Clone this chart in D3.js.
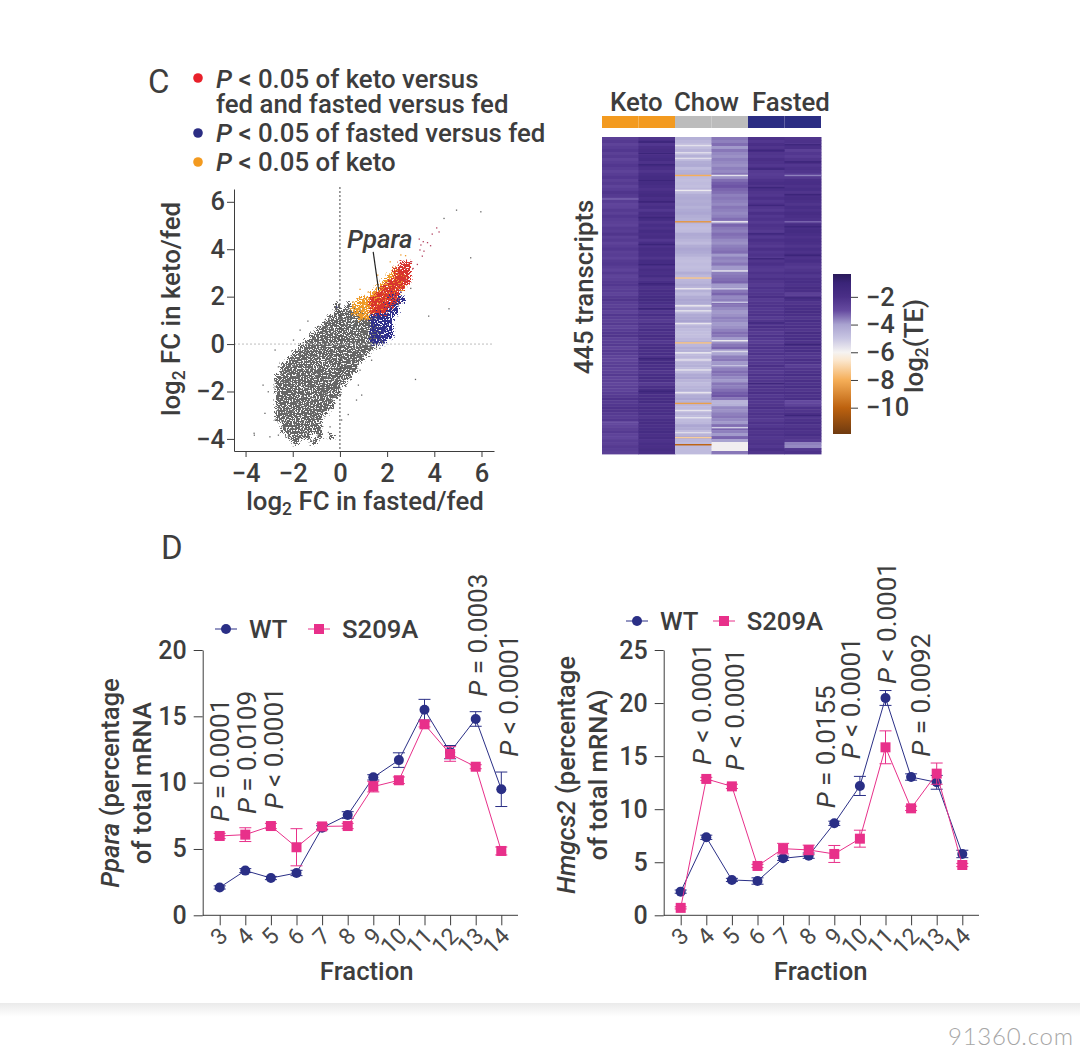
<!DOCTYPE html>
<html><head><meta charset="utf-8">
<script src="https://cdn.jsdelivr.net/npm/d3@7"></script>
<style>
html,body{margin:0;padding:0;background:#fff}
svg{display:block}
text{font-family:Roboto,sans-serif;fill:#3d3d3d}
</style></head><body>
<svg id="c" width="1080" height="1051"></svg>
<script>
// ---------- panel C scatter (density read per 0.25 x 0.25 log2 cell, 0-9) ----------
const grayX0 = -3.5, colorX0 = 0, cellSize = 0.25;
const grayTopY = 1.5, colorTopY = 3.25;
const grayDensity = [
"000000000000010100000000",
"000000000000011121000000",
"000000000000123588410000",
"000000000001257999930000",
"000000000012489999961000",
"000000000124699999961000",
"000000001235899999731000",
"000000012456899996210000",
"000000113567888952100000",
"000001235677776421000000",
"000011356777775310000000",
"000012466777764210000000",
"000113566777653100000000",
"000124667776421000000000",
"000135666765310000000000",
"000135666654210000000000",
"000124566542100000000000",
"000124565432100000000000",
"000113454321000000000000",
"000112342210000000000000",
"000011232110000000000000",
"000011111110000000000000",
"000001111010100000000000",
"000000100100000000000000"];
const orangeDensity = [
"00000000000000",
"00000000010000",
"00000000121000",
"00000001231000",
"00000013441000",
"00000135530000",
"00012465200000",
"00135641000000",
"00257400000000",
"00013000000000"];
const redDensity = [
"00000000001100",
"00000000012100",
"00000000024200",
"00000000146100",
"00000001472000",
"00000027830000",
"00000487510000",
"00000678300000",
"00000475000000",
"00000000000000"];
const blueDensity = [
"00000000000000",
"00000000000000",
"00000000000000",
"00000000000000",
"00000000000000",
"00000000110000",
"00000000131000",
"00000002310000",
"00000046410000",
"00000376200000",
"00000376100000",
"00000264100000",
"00000132100000",
"00000111000000"];
const grayPointsX = [4.94,5.97,4.41,5.54,4.62,3.76,3.2,-3.64,-3.26,-2.75,-1.36,-1.69,1.74,2.47,3.0,-3.04,-2.75,-2.61,-2.26,-3.18,-2.75,-2.47,-2.97,-2.61,-2.19,-1.34,-0.92,-0.42,0.07,0.35,0.7,0.92,0.78,0.85,1.34,0.99,-1.97,1.69,-3.63];
const grayPointsY = [5.65,5.58,5.3,3.64,1.49,1.18,-1.49,-3.76,-1.73,-0.25,0.97,0.59,0.14,1.68,2.35,-2.01,-1.8,-0.96,-0.75,-2.92,-3.2,-3.49,-3.91,-3.84,-3.91,-3.91,-3.84,-3.49,-3.2,-2.97,-2.36,-2.15,-1.73,-1.1,-0.68,-0.46,0.17,-0.18,-3.84];
const redPointsX = [4.1,4.2,3.91,3.36,3.53,3.71,3.84,3.43,3.39,3.56,3.49,3.01,3.28,2.75,2.9,3.1];
const redPointsY = [4.9,4.73,4.64,4.43,4.32,4.28,4.15,4.18,3.97,3.92,3.71,3.47,3.36,2.7,2.77,3.19];
const orangePointsX = [2.58,2.78,2.13,0.85,1.2,0.56,1.6];
const orangePointsY = [3.76,3.73,3.47,2.31,2.2,1.78,2.91];
const bluePointsX = [-0.14,2.12,1.84,1.62,2.58,2.33];
const bluePointsY = [1.56,1.22,0.52,0.66,2.2,1.65];
const scatterTicks = [-4,-2,0,2,4,6];
const ppLeaderX = [1.41,1.64], ppLeaderY = [3.89,2.27];

// ---------- panel C heatmap (log2 TE, 106 blocks of the 445 transcripts) ----------
const transcriptCount = 445;
const ketoA = [-2.6,-2.4,-2.7,-2.5,-2.3,-2.6,-2.4,-2.7,-2.5,-2.3,-2.5,-2.7,-2.5,-2.3,-2.6,-2.4,-2.7,-2.5,-2.2,-2.4,-2.6,-2.5,-2.8,-2.7,-2.4,-2.6,-2.3,-2.5,-2.6,-2.7,-2.4,-2.5,-2.2,-2.6,-2.4,-2.7,-2.5,-2.3,-2.6,-2.5,-2.7,-2.4,-2.3,-2.5,-2.7,-2.4,-2.7,-2.6,-2.4,-2.3,-2.6,-2.5,-2.7,-2.4,-2.2,-2.5,-2.6,-2.4,-2.7,-2.3,-2.5,-2.6,-2.4,-2.7,-2.5,-2.3,-2.2,-2.6,-2.5,-2.4,-2.7,-2.4,-2.5,-2.7,-2.8,-2.6,-2.5,-2.7,-2.6,-2.4,-2.7,-2.6,-2.8,-2.6,-2.7,-2.5,-2.4,-2.1,-2.4,-2.3,-2.1,-2.2,-2.4,-2.5,-2.3,-2.7,-2.8,-2.6,-2.4,-2.7,-2.8,-2.5,-2.6,-2.4,-2.5,-2.6];
const ketoB = [-2.2,-1.9,-2.3,-2,-1.8,-2.2,-1.9,-1.7,-2.1,-1.8,-2,-2.2,-1.9,-1.7,-2,-1.7,-1.9,-2.1,-1.8,-1.6,-2,-1.8,-2.1,-1.9,-2.3,-1.8,-2,-1.7,-2.2,-1.9,-2.1,-1.7,-2,-1.8,-2.3,-1.9,-2.1,-1.8,-2,-1.9,-2.2,-1.7,-1.9,-2.1,-1.8,-2,-1.7,-2.2,-1.9,-1.7,-2.1,-1.8,-2,-1.7,-1.6,-1.9,-2.1,-1.8,-2.3,-1.9,-2.2,-2.4,-2,-2.2,-1.9,-2.1,-1.8,-2,-2.3,-2,-1.8,-2,-1.9,-2.1,-1.8,-1.7,-2,-1.9,-2.2,-1.9,-1.8,-2,-2.4,-2,-1.8,-1.7,-2,-1.8,-1.7,-2.1,-1.8,-2,-1.9,-2.2,-1.9,-1.8,-2,-1.9,-1.7,-2,-1.8,-2.1,-1.9,-2,-1.8,-2];
const chowA = [-4.4,-4.6,-4.8,-4.8,-4.5,-4.8,-4.4,-4.7,-4.3,-4.2,-4.7,-4.4,-4.3,-4.7,-4.8,-4.7,-4.8,-4.6,-4.7,-4.3,-4.2,-4.3,-4.2,-4.4,-4.2,-4.1,-4.3,-4.4,-4.5,-4.7,-4.8,-4.7,-4.2,-4.3,-4.5,-4.7,-4.3,-4.1,-4.2,-4.4,-4.7,-4.8,-4.7,-4.8,-4.7,-4.3,-4.6,-4.6,-4.5,-4.3,-4.6,-4.4,-4.7,-4.3,-4.1,-4.2,-4.6,-4.5,-4.7,-4.2,-4.1,-4,-4.6,-4.5,-4.7,-4.8,-4.8,-4.6,-4.4,-4.6,-4.3,-4.4,-4.7,-4.6,-4.7,-4.5,-4.4,-4.7,-4.7,-4.2,-4.1,-4.5,-4.7,-4.5,-4.4,-4.6,-4.3,-4.1,-4.4,-4.6,-4.7,-4.7,-4.5,-4.7,-4.7,-4.6,-4.1,-4.3,-4.7,-4.5,-4.1,-4.6,-4.7,-4.7,-4.7,-4.7];
const chowB = [-3.5,-3.6,-3.4,-3.9,-3.5,-3.7,-3.8,-3.6,-3.7,-3.8,-3.6,-3.7,-3.5,-3.8,-3.4,-3.2,-3.1,-3.3,-3.4,-3.6,-3.5,-3.6,-3.7,-3.5,-3.6,-3.7,-3.6,-3.4,-3.8,-3.3,-3.5,-3.6,-3.4,-3.5,-3.7,-3.8,-3.6,-3.5,-3.4,-3.9,-3.6,-3.7,-3.5,-3.9,-3.9,-3.6,-3.5,-3.4,-3.3,-3.9,-3.9,-3.5,-3.3,-3.7,-3.6,-3.4,-3.5,-3.7,-3.9,-3.8,-3.6,-3.7,-3.9,-3.8,-3.6,-3.4,-3.5,-3.9,-3.8,-3.5,-3.3,-3.9,-4.1,-3.6,-3.5,-3.9,-3.7,-3.6,-3.4,-3.5,-3.7,-3.9,-3.5,-3.6,-3.4,-3.2,-3.1,-3.5,-4.5,-4.4,-3.7,-3.8,-3.6,-3.5,-3.7,-3.9,-3.4,-3.3,-3.6,-3.9,-3.3,-4,-5.9,-5.9,-5.9,-3.5];
const fastedA = [-2.1,-2.3,-2,-2.2,-1.9,-2.2,-2.3,-2,-2.1,-2.3,-2,-2.4,-2.5,-2.4,-2.1,-1.9,-2.2,-2,-2.2,-2.3,-2,-2.3,-2.1,-2.2,-2.4,-2,-2.3,-2.1,-2.4,-2.1,-2.2,-2.4,-2.1,-2.3,-2,-2.2,-2.4,-2,-2.3,-2.1,-2.4,-2.2,-2,-2.3,-2.4,-2.1,-2.3,-2,-2.2,-2.4,-2.1,-2.3,-2.2,-2,-2.4,-2.2,-2.1,-2.3,-2.2,-2.1,-2.4,-2.2,-2.3,-2,-2.2,-2.4,-2.1,-2.3,-2.5,-2.2,-2.1,-2.3,-2.1,-2.4,-2.2,-2.3,-2,-2.2,-2.4,-2.1,-2.3,-2.2,-2.4,-2.1,-2.2,-2,-2.3,-2.1,-2.3,-2.2,-2,-2.3,-2.1,-2.2,-2.4,-2.1,-2.3,-2,-2.2,-2.1,-2.3,-2.2,-2.1,-2.3,-2,-2.2];
const fastedB = [-2.2,-2.1,-2.3,-2,-2.6,-2.3,-2.5,-2.2,-2,-2.3,-2.1,-2.2,-2.5,-2.4,-2,-1.9,-2.1,-1.9,-2.2,-2,-1.8,-2,-2.2,-1.9,-2.1,-1.8,-2,-2.1,-2.3,-1.8,-1.9,-1.7,-1.9,-2.1,-1.9,-2,-2.2,-1.9,-2.1,-1.8,-2.1,-1.9,-2.2,-2.4,-2.2,-2,-2.3,-2,-1.9,-2.1,-1.8,-2,-2.6,-2.2,-1.9,-2.2,-2,-1.9,-1.8,-2,-2.2,-1.9,-2.1,-2,-2.2,-1.8,-2,-1.9,-2.1,-1.8,-2,-1.9,-2.2,-2.3,-2,-2.1,-2.5,-2.2,-2.1,-1.9,-2.2,-2,-2.1,-1.9,-2.2,-2,-2.1,-1.9,-2.9,-2.7,-2.1,-2.2,-2,-2.3,-2.1,-1.9,-2.2,-2,-2.1,-1.9,-2.2,-2.4,-3.6,-3.7,-2.3,-2.1];
// single transcripts that stand out inside a block: column index, transcript index, value
const spikeCols = [2,2,2,2,2,2,2, 2,2,2,2,2,2,2,2,2,2,2,2,2,2,2, 3,3,3,3,3,3,3,3,3, 5,5,0,0, 1,1,1,1,1,1,1,1,1,1,1,1, 4,4,4,4,4,4,4,4, 5,5,5,5,5,5,5,5];
const spikeRows = [53,118,197,288,373,421,431, 11,21,29,74,212,236,243,261,302,312,326,358,383,393,414, 53,118,187,212,285,300,407,231,320, 53,118,86,400, 6,22,38,60,90,112,150,178,205,240,310,356, 18,44,70,95,135,170,260,345, 10,34,80,125,165,225,290,390];
const spikeVals = [-8,-8.6,-7.4,-7.5,-8.4,-7.2,-10, -5.6,-5.5,-5.5,-5.8,-5.7,-5.8,-5.6,-5.7,-5.8,-5.6,-5.6,-5.7,-5.7,-5.6,-5.5, -5.6,-5.7,-5.6,-5,-5.8,-5.4,-5.2,-5,-4.9, -3.6,-3.3,-3.3,-3.1, -1.1,-1.1,-1.2,-1.1,-1.1,-1.2,-1.1,-1.1,-1.2,-1.1,-1.1,-1.2, -1.3,-1.3,-1.2,-1.3,-1.3,-1.2,-1.3,-1.3, -1.2,-1.2,-1.1,-1.2,-1.1,-1.2,-1.1,-1.2];
const heatCols = ["keto1","keto2","chow1","chow2","fasted1","fasted2"];
const groupNames = ["Keto","Chow","Fasted"];
const groupColors = ["#f39a1f","#bcbcbc","#2b2d83"];
const cbarTicks = [-2,-4,-6,-8,-10];
const cbarStops = [-11.9,-10,-8,-6.6,-6,-5,-4,-3,-2,-1,-0.35];
const cbarColors = ["#6f3a10","#bd620f","#f5ae58","#fbe6cc","#f5f3f2","#c8c5e2","#a9a3d0","#664ba0","#4a2f87","#3a2478","#2a1a5a"];

// ---------- panel D ----------
const fractions = [3,4,5,6,7,8,9,10,11,12,13,14];
const ppWT   = [2.1,3.37,2.81,3.19,6.6,7.56,10.4,11.7,15.5,12.3,14.8,9.5];
const ppWTe  = [0.12,0.15,0.12,0.2,0.15,0.25,0.2,0.55,0.78,0.5,0.55,1.3];
const ppKI   = [5.98,6.08,6.73,5.13,6.7,6.73,9.7,10.18,14.4,12.16,11.2,4.85];
const ppKIe  = [0.2,0.52,0.2,1.4,0.2,0.2,0.4,0.25,0.2,0.55,0.15,0.3];
const hmWT   = [2.23,7.35,3.33,3.23,5.37,5.62,8.67,12.19,20.48,13.03,12.53,5.78];
const hmWTe  = [0.15,0.2,0.15,0.3,0.2,0.25,0.2,0.9,0.7,0.3,0.65,0.35];
const hmKI   = [0.7,12.85,12.15,4.65,6.28,6.16,5.78,7.22,15.83,10.08,13.35,4.74];
const hmKIe  = [0.1,0.15,0.2,0.15,0.5,0.45,0.8,0.8,1.55,0.2,1,0.15];

const NAVY="#2a2f86", PINK="#e8308a", INK="#3d3d3d";
const svg=d3.select("#c");

function rich(g,parts){ // parts: [text, style] with style i=italic, s=subscript, r=return to baseline
  parts.forEach(([t,st])=>{
    const sp=g.append("tspan").text(t);
    if(st==="i") sp.attr("font-style","italic");
    if(st==="s") sp.attr("font-size","68%").attr("dy","0.3em");
    if(st==="r") sp.attr("dy","-0.204em");
  });
  return g;
}
function label(x,y,parts,size,opt={}){
  const t=svg.append("text").attr("x",x).attr("y",y).attr("font-size",size)
    .attr("font-weight",opt.w||400).attr("text-anchor",opt.a||"start");
  if(opt.ls) t.attr("letter-spacing",opt.ls);
  if(opt.rot!==undefined) t.attr("transform",`rotate(${opt.rot} ${x} ${y})`);
  return rich(t,parts);
}

// ---- panel letters and legend
label(148,93,[["C"]],33);
label(161,559,[["D"]],33);
const legY=[78,133,162], legC=["#e8202a","#2b2d83","#f39a1f"];
svg.selectAll(".ld").data(legY).join("circle").attr("cx",198).attr("cy",d=>d).attr("r",4.8).attr("fill",(d,i)=>legC[i]);
label(216,88,[["P","i"],[" < 0.05 of keto versus"]],25.8,{w:500});
label(216,113,[["fed and fasted versus fed"]],25.8,{w:500});
label(216,142,[["P","i"],[" < 0.05 of fasted versus fed"]],25.8,{w:500});
label(216,171,[["P","i"],[" < 0.05 of keto"]],25.8,{w:500});

// ---- scatter
const sx=d3.scaleLinear().domain([-4.49,6.53]).range([234,494]);
const sy=d3.scaleLinear().domain([-4.51,6.54]).range([451,189]);
const defs=svg.append("defs");
function stipple(id,color,seed,blur){
  const f=defs.append("filter").attr("id",id).attr("filterUnits","userSpaceOnUse")
    .attr("x",230).attr("y",180).attr("width",270).attr("height",280)
    .attr("color-interpolation-filters","sRGB");
  f.append("feGaussianBlur").attr("in","SourceAlpha").attr("stdDeviation",blur).attr("result","b");
  f.append("feComponentTransfer").attr("in","b").attr("result","d")
    .append("feFuncA").attr("type","table").attr("tableValues","0 .1 .16 .24 .32 .42 .55 .7 .85 1");
  f.append("feTurbulence").attr("type","fractalNoise").attr("baseFrequency","0.67 0.73").attr("numOctaves",3).attr("seed",seed).attr("result","t");
  f.append("feColorMatrix").attr("in","t").attr("type","matrix")
    .attr("values","0 0 0 0 0  0 0 0 0 0  0 0 0 0 0  0 0 0 3.5 -1.25").attr("result","n");
  f.append("feComposite").attr("in","d").attr("in2","n").attr("operator","arithmetic")
    .attr("k1",0).attr("k2",8).attr("k3",8).attr("k4",-8.4).attr("result","m");
  f.append("feFlood").attr("flood-color",color).attr("result","c");
  f.append("feComposite").attr("in","c").attr("in2","m").attr("operator","in");
}
stipple("fg","#666666",3,1.4);
stipple("fo","#ee9a28",7,1.4);
stipple("fb","#2f2f8c",11,1.4);
stipple("fr","#d8352e",19,1.4);
function densityLayer(rows,x0,top,filterId){
  const cells=[];
  rows.forEach((r,ri)=>r.split("").forEach((ch,ci)=>{ if(+ch>0) cells.push({x:x0+ci*cellSize,y:top-ri*cellSize,d:+ch}); }));
  svg.append("g").attr("filter",`url(#${filterId})`).selectAll("rect").data(cells).join("rect")
    .attr("x",d=>sx(d.x)).attr("y",d=>sy(d.y+cellSize))
    .attr("width",d=>sx(d.x+cellSize)-sx(d.x)+0.3).attr("height",d=>sy(d.y)-sy(d.y+cellSize)+0.3)
    .attr("fill","#000").attr("fill-opacity",d=>d/9);
}
densityLayer(grayDensity,grayX0,grayTopY,"fg");
densityLayer(orangeDensity,colorX0,colorTopY,"fo");
densityLayer(blueDensity,colorX0,colorTopY,"fb");
densityLayer(redDensity,colorX0,colorTopY,"fr");
function points(xs,ys,color){
  svg.append("g").selectAll("rect").data(xs).join("rect")
   .attr("x",(d)=>sx(d)-0.6).attr("y",(d,i)=>sy(ys[i])-0.6).attr("width",1.3).attr("height",1.3).attr("fill",color);
}
points(grayPointsX,grayPointsY,"#666");
points(redPointsX,redPointsY,"#b0405e");
points(orangePointsX,orangePointsY,"#ee9a28");
points(bluePointsX,bluePointsY,"#3a3a90");
// reference lines
svg.append("line").attr("x1",sx(-4.49)).attr("x2",sx(6.53)).attr("y1",sy(0)).attr("y2",sy(0)).attr("stroke","#bdbdbd").attr("stroke-width",1).attr("stroke-dasharray","2 2");
svg.append("line").attr("x1",sx(0)).attr("x2",sx(0)).attr("y1",187).attr("y2",451).attr("stroke","#444").attr("stroke-width",1).attr("stroke-dasharray","2 2");
function styleAxis(g,size,color){
  g.selectAll("line").attr("stroke","#3d3d3d").attr("stroke-width",1);
  g.select(".domain").attr("stroke","#3d3d3d").attr("stroke-width",1);
  g.selectAll("text").attr("font-size",size).style("fill",color||INK).attr("font-family","Roboto");
}
svg.append("g").attr("transform",`translate(0,${sy(-4.51)})`)
  .call(d3.axisBottom(sx).tickValues(scatterTicks).tickSize(6).tickSizeOuter(0).tickPadding(7))
  .call(g=>styleAxis(g,25.5)).selectAll("text").attr("font-weight",500);
svg.append("g").attr("transform",`translate(${sx(-4.49)},0)`)
  .call(d3.axisLeft(sy).tickValues(scatterTicks).tickSize(7).tickSizeOuter(0).tickPadding(2))
  .call(g=>styleAxis(g,25.5)).selectAll("text").attr("font-weight",500);
label(365,510,[["log"],["2","s"],[" FC in fasted/fed","r"]],25.8,{a:"middle",w:500});
label(180,309,[["log"],["2","s"],[" FC in keto/fed","r"]],25.8,{a:"middle",w:500,rot:-90});
label(347,248,[["Ppara","i"]],25.8,{w:500});
svg.append("line").attr("x1",sx(ppLeaderX[0])).attr("y1",sy(ppLeaderY[0])).attr("x2",sx(ppLeaderX[1])).attr("y2",sy(ppLeaderY[1])).attr("stroke","#222").attr("stroke-width",1.2);

// ---- heatmap
const hx=d3.scaleBand().domain(heatCols).range([602,821]);
const hy=d3.scaleLinear().domain([0,transcriptCount]).range([137,454]);
const tc=d3.scaleLinear().domain(cbarStops).range(cbarColors).interpolate(d3.interpolateRgb);
[ketoA,ketoB,chowA,chowB,fastedA,fastedB].forEach((col,ci)=>{
  const blk=transcriptCount/col.length;
  svg.append("g").selectAll("rect").data(col).join("rect")
    .attr("x",hx(heatCols[ci])).attr("width",hx.bandwidth()+0.5)
    .attr("y",(d,i)=>hy(i*blk)).attr("height",hy(blk)-hy(0)+0.4).attr("fill",d=>tc(d));
});
svg.append("g").selectAll("rect").data(spikeVals).join("rect")
  .attr("x",(d,i)=>hx(heatCols[spikeCols[i]])).attr("width",hx.bandwidth())
  .attr("y",(d,i)=>hy(spikeRows[i])).attr("height",hy(2)-hy(0)).attr("fill",d=>tc(d));
svg.append("g").selectAll("rect").data(heatCols).join("rect")
  .attr("x",d=>hx(d)).attr("y",116).attr("width",hx.bandwidth()).attr("height",12)
  .attr("fill",(d,i)=>groupColors[Math.floor(i/2)]);
[610,674,752].forEach((x,i)=>label(x,111,[[groupNames[i]]],25.8,{w:500}));
label(593,287,[["445 transcripts"]],25.8,{a:"middle",rot:-90,w:500});

// colorbar
const cby=d3.scaleLinear().domain([-0.35,-11.9]).range([274,434]);
const gid=defs.append("linearGradient").attr("id","cb").attr("x1",0).attr("x2",0).attr("y1",0).attr("y2",1);
cbarStops.slice().reverse().forEach((s)=>gid.append("stop").attr("offset",(cby(s)-274)/160).attr("stop-color",tc(s)));
svg.append("rect").attr("x",833).attr("y",274).attr("width",18).attr("height",160).attr("fill","url(#cb)");
svg.append("g").attr("transform","translate(851,0)")
  .call(d3.axisRight(cby).tickValues(cbarTicks).tickSize(7).tickSizeOuter(0).tickPadding(8))
  .call(g=>{styleAxis(g,25.5);g.select(".domain").remove();}).selectAll("text").attr("font-weight",500);
label(923,346,[["log"],["2","s"],["(TE)","r"]],25.8,{a:"middle",rot:-90,w:500});

// ---- line charts
function lineChart(o){
  const x=d3.scalePoint().domain(fractions).range(o.xr);
  const y=d3.scaleLinear().domain([0,o.ymax]).range([915.3,650]);
  svg.append("line").attr("x1",o.ax).attr("x2",o.xEnd).attr("y1",y(0)).attr("y2",y(0)).attr("stroke",INK);
  svg.append("g").attr("transform",`translate(${o.ax},0)`)
    .call(d3.axisLeft(y).tickValues(o.yt).tickSize(9).tickSizeOuter(0).tickPadding(7))
    .call(g=>styleAxis(g,25)).selectAll("text").attr("font-weight",500);
  const xa=svg.append("g").attr("transform",`translate(0,${y(0)})`)
    .call(d3.axisBottom(x).tickSize(10).tickSizeOuter(0));
  styleAxis(xa,23,"#4a4a4a");
  xa.select(".domain").remove();
  xa.selectAll("text").attr("text-anchor","end").attr("dy",0).attr("y",0)
    .attr("transform","translate(9,22) rotate(-45)");
  [[o.wt,o.wte,NAVY],[o.ki,o.kie,PINK]].forEach(([v,e,c],si)=>{
    const gg=svg.append("g");
    gg.append("path").attr("fill","none").attr("stroke",c).attr("stroke-width",1)
      .attr("d",d3.line().x((d,i)=>x(fractions[i])).y(d=>y(d))(v));
    v.forEach((d,i)=>{
      const X=x(fractions[i]);
      gg.append("line").attr("x1",X).attr("x2",X).attr("y1",y(d-e[i])).attr("y2",y(d+e[i])).attr("stroke",c);
      [d-e[i],d+e[i]].forEach(w=>gg.append("line").attr("x1",X-6).attr("x2",X+6).attr("y1",y(w)).attr("y2",y(w)).attr("stroke",c));
      if(si===0) gg.append("circle").attr("cx",X).attr("cy",y(d)).attr("r",5).attr("fill",c);
      else gg.append("rect").attr("x",X-5).attr("y",y(d)-5).attr("width",10).attr("height",10).attr("fill",c);
    });
  });
  // legend
  const L=o.leg;
  svg.append("line").attr("x1",L.x1).attr("x2",L.x1+22).attr("y1",L.y).attr("y2",L.y).attr("stroke",NAVY);
  svg.append("circle").attr("cx",L.x1+11).attr("cy",L.y).attr("r",5).attr("fill",NAVY);
  label(L.t1,L.y+8.5,[["WT"]],25.7,{w:500});
  svg.append("line").attr("x1",L.x2).attr("x2",L.x2+22).attr("y1",L.y).attr("y2",L.y).attr("stroke",PINK);
  svg.append("rect").attr("x",L.x2+6).attr("y",L.y-5).attr("width",10).attr("height",10).attr("fill",PINK);
  label(L.t2,L.y+8.5,[["S209A"]],25.7,{w:500});
  label(o.fx,980,[["Fraction"]],25.7,{a:"middle",w:500});
  label(o.lab[0],o.lab[2],o.line1,25.7,{a:"middle",rot:-90,w:500});
  label(o.lab[1],o.lab[2],o.line2,25.7,{a:"middle",rot:-90,w:500});
  o.p.forEach(([xx,yy,txt])=>label(xx,yy,[["P","i"],[" "+txt]],26,{rot:-90,w:400}));
}
lineChart({xr:[219.7,501.3],ymax:20,yt:[0,5,10,15,20],ax:202.7,xEnd:518,wt:ppWT,wte:ppWTe,ki:ppKI,kie:ppKIe,
  leg:{x1:215,y:629,t1:249,x2:308,t2:342},fx:366.7,lab:[119,151,783],
  line1:[["Ppara","i"],[" (percentage"]],line2:[["of total mRNA"]],
  p:[[229.3,821.7,"= 0.0001"],[256,814,"= 0.0109"],[282.7,809.3,"< 0.0001"],[487.3,696.7,"= 0.0003"],[518.3,756.7,"< 0.0001"]]});
lineChart({xr:[680.7,962.3],ymax:25,yt:[0,5,10,15,20,25],ax:663.7,xEnd:979,wt:hmWT,wte:hmWTe,ki:hmKI,kie:hmKIe,
  leg:{x1:626,y:621,t1:660,x2:713,t2:746.7},fx:820.7,lab:[575,606.7,775],
  line1:[["Hmgcs2","i"],[" (percentage"]],line2:[["of total mRNA)"]],
  p:[[711,765,"< 0.0001"],[744.3,770.7,"< 0.0001"],[835,808.3,"= 0.0155"],[860,759.3,"< 0.0001"],[895.7,684,"< 0.0001"],[930,756.7,"= 0.0092"]]});

// ---- page footer band and site mark
const fg=defs.append("linearGradient").attr("id","band").attr("x1",0).attr("x2",0).attr("y1",0).attr("y2",1);
fg.append("stop").attr("offset",0).attr("stop-color","#eaeaea");
fg.append("stop").attr("offset",1).attr("stop-color","#ffffff");
svg.append("rect").attr("x",0).attr("y",1003).attr("width",1080).attr("height",14).attr("fill","url(#band)");
svg.append("text").attr("x",948).attr("y",1045).attr("font-size",24).attr("font-weight",300).attr("textLength",125).style("font-family","Lato").style("fill","#a6a6a6").text("91360.com");
</script></body></html>
